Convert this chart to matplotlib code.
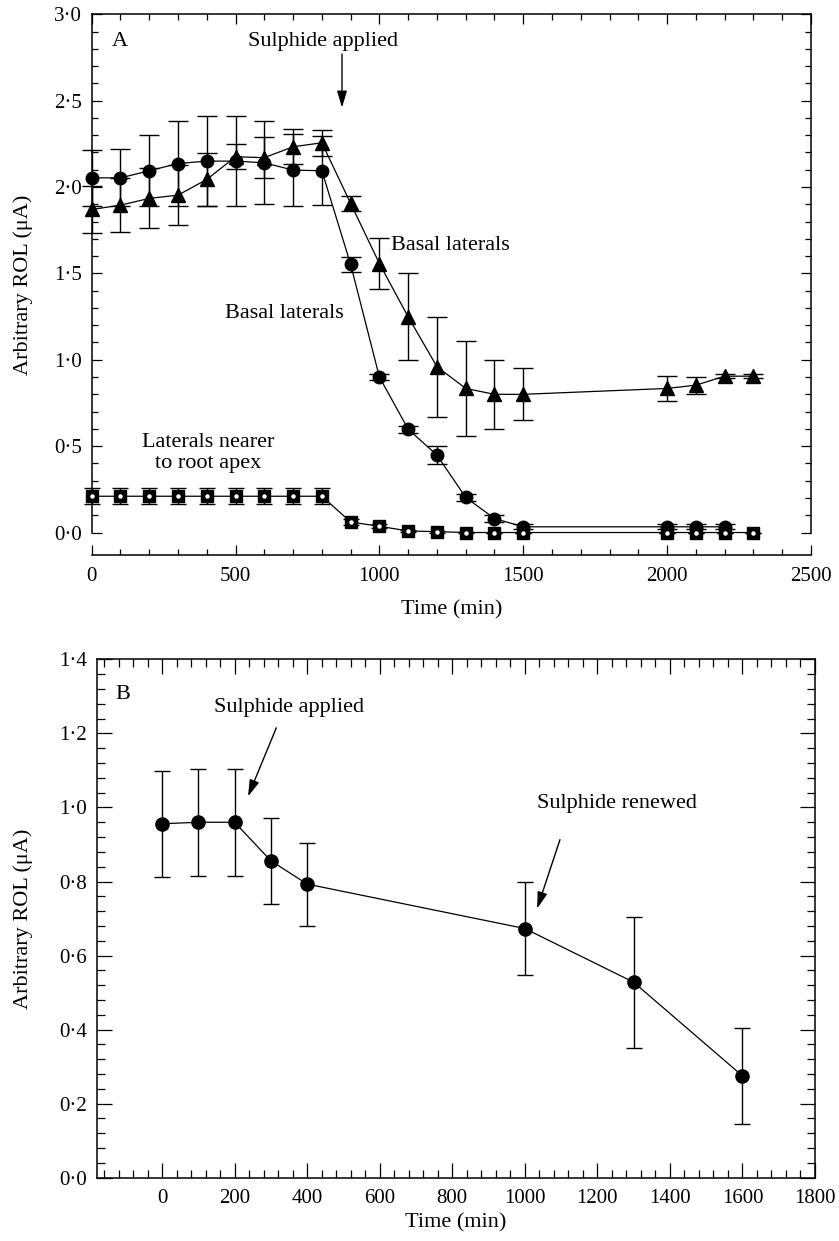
import numpy as np
import matplotlib
matplotlib.use('Agg')
import matplotlib.pyplot as plt
import matplotlib.ticker as mtick

plt.rcParams['font.family'] = ['Liberation Serif', 'DejaVu Serif']
plt.rcParams['mathtext.fontset'] = 'stix'

# ---- panel A data (time in min, ROL in uA) ----
t_tri = [0, 100, 200, 300, 400, 500, 600, 700, 800, 900, 1000, 1100, 1200,
         1300, 1400, 1500, 2000, 2100, 2200, 2300]
rol_tri = [1.87, 1.895, 1.934, 1.953, 2.044, 2.175, 2.17, 2.233, 2.256, 1.905,
           1.557, 1.248, 0.96, 0.834, 0.80, 0.80, 0.834, 0.853, 0.905, 0.905]
err_tri = [0.135, 0.155, 0.174, 0.174, 0.155, 0.073, 0.12, 0.10, 0.075, 0.045,
           0.145, 0.252, 0.29, 0.275, 0.20, 0.15, 0.07, 0.05, 0.01, 0.01]

t_circ = [0, 100, 200, 300, 400, 500, 600, 700, 800, 900, 1000, 1100, 1200,
          1300, 1400, 1500, 2000, 2100, 2200]
rol_circ = [2.053, 2.053, 2.094, 2.136, 2.15, 2.15, 2.14, 2.098, 2.094, 1.552,
            0.90, 0.598, 0.448, 0.203, 0.081, 0.033, 0.033, 0.033, 0.033]
err_circ = [0.16, 0.165, 0.206, 0.245, 0.26, 0.26, 0.24, 0.21, 0.20, 0.045,
            0.02, 0.02, 0.05, 0.02, 0.02, 0.015, 0.015, 0.015, 0.015]

t_sq = [0, 100, 200, 300, 400, 500, 600, 700, 800, 900, 1000, 1100, 1200,
        1300, 1400, 1500, 2000, 2100, 2200, 2300]
rol_sq = [0.21, 0.21, 0.21, 0.21, 0.21, 0.21, 0.21, 0.21, 0.21, 0.061,
          0.036, 0.009, 0.005, 0.0, 0.0, 0.0, 0.0, 0.0, 0.0, 0.0]
err_sq = [0.045, 0.045, 0.045, 0.045, 0.045, 0.045, 0.045, 0.045, 0.045, 0.015,
          0.012, 0.008, 0.006, 0.005, 0.0, 0.0, 0.0, 0.0, 0.0, 0.0]

# ---- panel B data ----
t_b = [0, 100, 200, 300, 400, 1000, 1300, 1600]
rol_b = [0.956, 0.960, 0.960, 0.856, 0.793, 0.673, 0.528, 0.275]
err_b = [0.143, 0.145, 0.145, 0.116, 0.112, 0.126, 0.177, 0.13]

fs_tick = 15
fs_text = 16


def dotfmt(v, pos):
    return ('%.1f' % v).replace('.', '\u00b7')


def style_axis(ax, major, minor):
    for s in ax.spines.values():
        s.set_linewidth(1.1)
    ax.tick_params(which='both', direction='in', top=True, right=True,
                   width=0.9, labelsize=fs_tick)
    ax.tick_params(which='major', length=major)
    ax.tick_params(which='minor', length=minor)


fig = plt.figure(figsize=(8.39, 12.41), dpi=100)

# ---------------- panel A ----------------
ax1 = fig.add_axes([0.1093, 0.5528, 0.8573, 0.4357])
ax1.set_xlim(0, 2500)
ax1.set_ylim(-0.13, 3.0)
ax1.spines['left'].set_bounds(0, 3)
ax1.spines['right'].set_bounds(0, 3)
ax1.xaxis.set_major_locator(mtick.FixedLocator(np.arange(0, 2501, 500)))
ax1.xaxis.set_minor_locator(mtick.FixedLocator(np.arange(0, 2501, 100)))
ax1.yaxis.set_major_locator(mtick.FixedLocator(np.arange(0, 3.01, 0.5)))
ax1.yaxis.set_minor_locator(mtick.FixedLocator(np.arange(0, 3.01, 0.1)))
ax1.yaxis.set_major_formatter(mtick.FuncFormatter(dotfmt))
style_axis(ax1, 7.2, 4.4)
ax1.tick_params(axis='x', pad=9)
ax1.tick_params(axis='y', pad=7)

ax1.errorbar(t_tri, rol_tri, yerr=err_tri, fmt='-', marker='^', color='k',
             ms=9.5, lw=0.9, elinewidth=1.0, capsize=7, capthick=1.0,
             clip_on=False, zorder=4)
ax1.errorbar(t_circ, rol_circ, yerr=err_circ, fmt='-', marker='o', color='k',
             ms=9, lw=0.9, elinewidth=1.0, capsize=7, capthick=1.0,
             clip_on=False, zorder=3)
ax1.errorbar(t_sq, rol_sq, yerr=err_sq, fmt='-', marker='s', color='k',
             ms=8, lw=0.9, elinewidth=1.0, capsize=5.5, capthick=1.0,
             clip_on=False, zorder=5)
ax1.plot(t_sq, rol_sq, 'o', color='white', ms=2.2, clip_on=False, zorder=6)

ax1.text(70, 2.84, 'A', fontsize=fs_text, ha='left', va='center')
ax1.text(805, 2.84, 'Sulphide applied', fontsize=fs_text, ha='center', va='center')
ax1.annotate('', xy=(870, 2.46), xytext=(870, 2.77),
             arrowprops=dict(arrowstyle='-|>,head_length=0.5,head_width=0.15',
                             color='k', lw=1.0, mutation_scale=20,
                             shrinkA=0, shrinkB=0))
ax1.text(1041, 1.664, 'Basal laterals', fontsize=fs_text, ha='left', va='center')
ax1.text(668, 1.268, 'Basal laterals', fontsize=fs_text, ha='center', va='center')
ax1.text(405, 0.459, 'Laterals nearer\nto root apex', fontsize=fs_text,
         ha='center', va='center', multialignment='center', linespacing=1.15)

ax1.set_xlabel('Time (min)', fontsize=fs_text)
ax1.set_ylabel('Arbitrary ROL (\u03bcA)', fontsize=fs_text)
ax1.xaxis.set_label_coords(0.5, -0.083)
ax1.yaxis.set_label_coords(-0.088, 0.5)
ax1.yaxis.label.set_va('baseline')

# ---------------- panel B ----------------
ax2 = fig.add_axes([0.1153, 0.0510, 0.8561, 0.4177])
ax2.set_xlim(-180, 1800)
ax2.set_ylim(0, 1.4)
ax2.xaxis.set_major_locator(mtick.FixedLocator(np.arange(0, 1801, 200)))
ax2.xaxis.set_minor_locator(mtick.FixedLocator(np.arange(-160, 1801, 40)))
ax2.yaxis.set_major_locator(mtick.FixedLocator(np.arange(0, 1.41, 0.2)))
ax2.yaxis.set_minor_locator(mtick.FixedLocator(np.arange(0, 1.41, 0.04)))
ax2.yaxis.set_major_formatter(mtick.FuncFormatter(dotfmt))
style_axis(ax2, 10.5, 5.5)
ax2.tick_params(axis='x', pad=8)
ax2.tick_params(axis='y', pad=7)

ax2.errorbar(t_b, rol_b, yerr=err_b, fmt='-', marker='o', color='k',
             ms=9.5, lw=0.9, elinewidth=1.0, capsize=5.8, capthick=1.0,
             zorder=3)

ax2.text(-128, 1.304, 'B', fontsize=fs_text, ha='left', va='center')
ax2.text(349, 1.269, 'Sulphide applied', fontsize=fs_text, ha='center', va='center')
ax2.annotate('', xy=(237, 1.03), xytext=(315, 1.215),
             arrowprops=dict(arrowstyle='-|>,head_length=0.5,head_width=0.15',
                             color='k', lw=1.0, mutation_scale=20,
                             shrinkA=0, shrinkB=0))
ax2.text(1253, 1.011, 'Sulphide renewed', fontsize=fs_text, ha='center', va='center')
ax2.annotate('', xy=(1034, 0.727), xytext=(1097, 0.913),
             arrowprops=dict(arrowstyle='-|>,head_length=0.5,head_width=0.15',
                             color='k', lw=1.0, mutation_scale=20,
                             shrinkA=0, shrinkB=0))

ax2.set_xlabel('Time (min)', fontsize=fs_text)
ax2.set_ylabel('Arbitrary ROL (\u03bcA)', fontsize=fs_text)
ax2.xaxis.set_label_coords(0.5, -0.068)
ax2.yaxis.set_label_coords(-0.0952, 0.5)
ax2.yaxis.label.set_va('baseline')

fig.savefig('out.png', dpi=100)
